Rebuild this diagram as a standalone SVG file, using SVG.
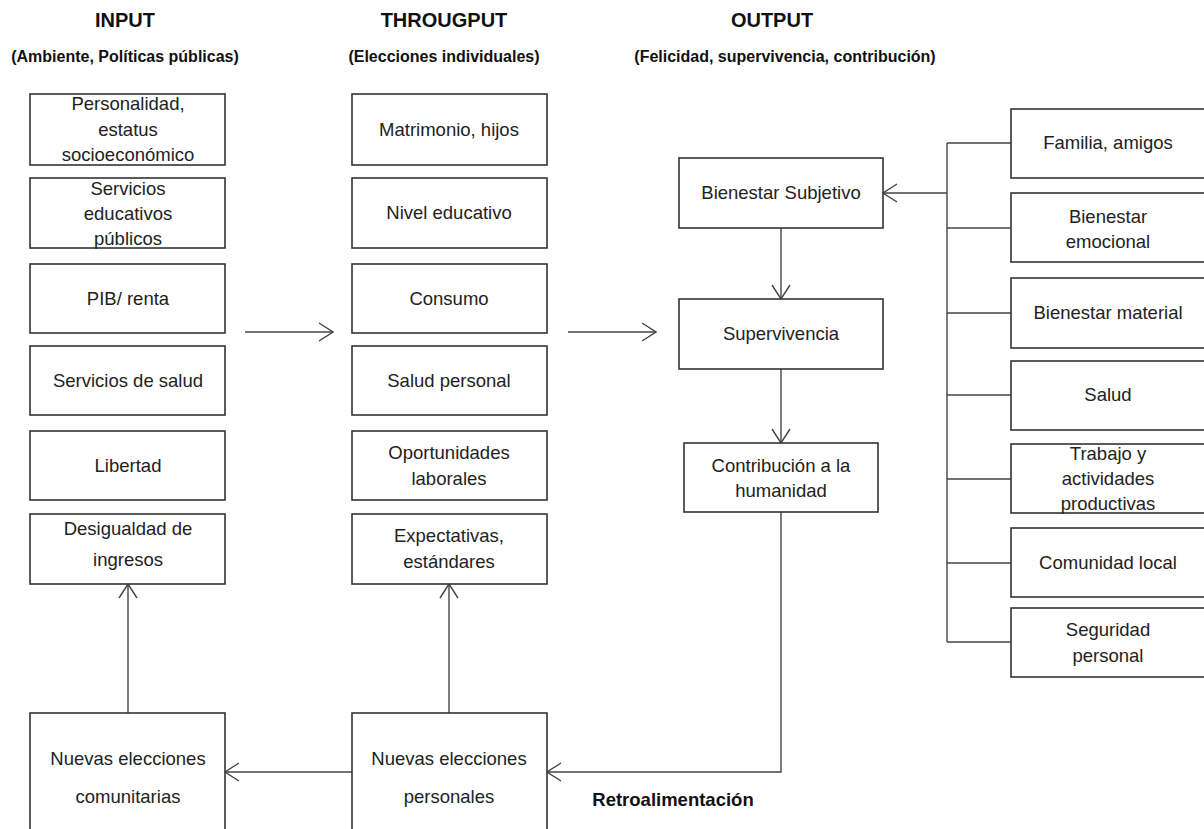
<svg xmlns="http://www.w3.org/2000/svg" width="1204" height="829" viewBox="0 0 1204 829">
  <style>
    .box { fill: #fff; stroke: #333; stroke-width: 1.6; }
    .txt { font-family: "Liberation Sans", Arial, sans-serif; font-size: 18.5px; fill: #222; text-anchor: middle; }
    .hd { font-family: "Liberation Sans", Arial, sans-serif; font-weight: bold; font-size: 20px; fill: #111; text-anchor: middle; }
    .sub { font-family: "Liberation Sans", Arial, sans-serif; font-weight: bold; font-size: 16px; fill: #111; text-anchor: middle; }
    .lnk { fill: none; stroke: #444; stroke-width: 1.4; }
    .arw { fill: none; stroke: #444; stroke-width: 1.4; marker-end: url(#chev); }
  </style>
  <defs>
    <marker id="chev" viewBox="0 0 16 20" refX="15" refY="10" markerWidth="16" markerHeight="20" markerUnits="userSpaceOnUse" orient="auto">
      <path d="M1,1 L15,10 L1,19" fill="none" stroke="#444" stroke-width="1.4"/>
    </marker>
  </defs>
  <rect width="1204" height="829" fill="#fff"/>

  <!-- column headings -->
  <g id="headings">
    <text class="hd" x="125" y="27">INPUT</text>
    <text class="sub" x="125" y="62">(Ambiente, Políticas públicas)</text>
    <text class="hd" x="444" y="27">THROUGPUT</text>
    <text class="sub" x="444" y="62">(Elecciones individuales)</text>
    <text class="hd" x="772" y="27">OUTPUT</text>
    <text class="sub" x="785" y="62">(Felicidad, supervivencia, contribución)</text>
    <text class="sub" x="673" y="806" style="font-size:18.5px">Retroalimentación</text>
  </g>

  <!-- connectors -->
  <g id="connectors">
    <line class="arw" x1="245" y1="332" x2="333" y2="332"/>
    <line class="arw" x1="568" y1="332" x2="656" y2="332"/>
    <line class="arw" x1="781" y1="228" x2="781" y2="299"/>
    <line class="arw" x1="781" y1="369" x2="781" y2="443"/>
    <polyline class="arw" points="781,512 781,772 547,772"/>
    <line class="arw" x1="352" y1="772" x2="225" y2="772"/>
    <line class="arw" x1="128" y1="713" x2="128" y2="584"/>
    <line class="arw" x1="449" y1="713" x2="449" y2="584"/>
    <line class="lnk" x1="947" y1="143" x2="947" y2="642"/>
    <line class="arw" x1="947" y1="193" x2="883" y2="193"/>
    <line class="lnk" x1="947" y1="143" x2="1011" y2="143"/>
    <line class="lnk" x1="947" y1="228" x2="1011" y2="228"/>
    <line class="lnk" x1="947" y1="313" x2="1011" y2="313"/>
    <line class="lnk" x1="947" y1="395" x2="1011" y2="395"/>
    <line class="lnk" x1="947" y1="479" x2="1011" y2="479"/>
    <line class="lnk" x1="947" y1="563" x2="1011" y2="563"/>
    <line class="lnk" x1="947" y1="642" x2="1011" y2="642"/>
  </g>

  <!-- INPUT column -->
  <g id="in-personalidad">
    <rect class="box" x="30" y="94" width="195" height="71"/>
    <text class="txt" x="128" y="110">Personalidad,</text>
    <text class="txt" x="128" y="136">estatus</text>
    <text class="txt" x="128" y="161">socioeconómico</text>
  </g>
  <g id="in-educacion">
    <rect class="box" x="30" y="178" width="195" height="70"/>
    <text class="txt" x="128" y="195">Servicios</text>
    <text class="txt" x="128" y="220">educativos</text>
    <text class="txt" x="128" y="245">públicos</text>
  </g>
  <g id="in-pib">
    <rect class="box" x="30" y="264" width="195" height="69"/>
    <text class="txt" x="128" y="305">PIB/ renta</text>
  </g>
  <g id="in-salud">
    <rect class="box" x="30" y="346" width="195" height="69"/>
    <text class="txt" x="128" y="387">Servicios de salud</text>
  </g>
  <g id="in-libertad">
    <rect class="box" x="30" y="431" width="195" height="69"/>
    <text class="txt" x="128" y="472">Libertad</text>
  </g>
  <g id="in-desigualdad">
    <rect class="box" x="30" y="514" width="195" height="70"/>
    <text class="txt" x="128" y="535">Desigualdad de</text>
    <text class="txt" x="128" y="566">ingresos</text>
  </g>
  <g id="in-comunitarias">
    <rect class="box" x="30" y="713" width="195" height="130"/>
    <text class="txt" x="128" y="765">Nuevas elecciones</text>
    <text class="txt" x="128" y="803">comunitarias</text>
  </g>

  <!-- THROUGPUT column -->
  <g id="th-matrimonio">
    <rect class="box" x="352" y="94" width="195" height="71"/>
    <text class="txt" x="449" y="136">Matrimonio, hijos</text>
  </g>
  <g id="th-nivel">
    <rect class="box" x="352" y="178" width="195" height="70"/>
    <text class="txt" x="449" y="219">Nivel educativo</text>
  </g>
  <g id="th-consumo">
    <rect class="box" x="352" y="264" width="195" height="69"/>
    <text class="txt" x="449" y="305">Consumo</text>
  </g>
  <g id="th-salud">
    <rect class="box" x="352" y="346" width="195" height="69"/>
    <text class="txt" x="449" y="387">Salud personal</text>
  </g>
  <g id="th-oportunidades">
    <rect class="box" x="352" y="431" width="195" height="69"/>
    <text class="txt" x="449" y="459">Oportunidades</text>
    <text class="txt" x="449" y="485">laborales</text>
  </g>
  <g id="th-expectativas">
    <rect class="box" x="352" y="514" width="195" height="70"/>
    <text class="txt" x="449" y="542">Expectativas,</text>
    <text class="txt" x="449" y="568">estándares</text>
  </g>
  <g id="th-personales">
    <rect class="box" x="352" y="713" width="195" height="130"/>
    <text class="txt" x="449" y="765">Nuevas elecciones</text>
    <text class="txt" x="449" y="803">personales</text>
  </g>

  <!-- OUTPUT column -->
  <g id="out-bienestar">
    <rect class="box" x="679" y="158" width="204" height="70"/>
    <text class="txt" x="781" y="199">Bienestar Subjetivo</text>
  </g>
  <g id="out-supervivencia">
    <rect class="box" x="679" y="299" width="204" height="70"/>
    <text class="txt" x="781" y="340">Supervivencia</text>
  </g>
  <g id="out-contribucion">
    <rect class="box" x="684" y="443" width="194" height="69"/>
    <text class="txt" x="781" y="472">Contribución a la</text>
    <text class="txt" x="781" y="497">humanidad</text>
  </g>

  <!-- well-being domains -->
  <g id="dom-familia">
    <rect class="box" x="1011" y="109" width="196" height="69"/>
    <text class="txt" x="1108" y="149">Familia, amigos</text>
  </g>
  <g id="dom-emocional">
    <rect class="box" x="1011" y="193" width="196" height="69"/>
    <text class="txt" x="1108" y="223">Bienestar</text>
    <text class="txt" x="1108" y="248">emocional</text>
  </g>
  <g id="dom-material">
    <rect class="box" x="1011" y="278" width="196" height="70"/>
    <text class="txt" x="1108" y="319">Bienestar material</text>
  </g>
  <g id="dom-salud">
    <rect class="box" x="1011" y="361" width="196" height="69"/>
    <text class="txt" x="1108" y="401">Salud</text>
  </g>
  <g id="dom-trabajo">
    <rect class="box" x="1011" y="444" width="196" height="69"/>
    <text class="txt" x="1108" y="460">Trabajo y</text>
    <text class="txt" x="1108" y="485">actividades</text>
    <text class="txt" x="1108" y="510">productivas</text>
  </g>
  <g id="dom-comunidad">
    <rect class="box" x="1011" y="528" width="196" height="69"/>
    <text class="txt" x="1108" y="569">Comunidad local</text>
  </g>
  <g id="dom-seguridad">
    <rect class="box" x="1011" y="608" width="196" height="69"/>
    <text class="txt" x="1108" y="636">Seguridad</text>
    <text class="txt" x="1108" y="662">personal</text>
  </g>
</svg>
